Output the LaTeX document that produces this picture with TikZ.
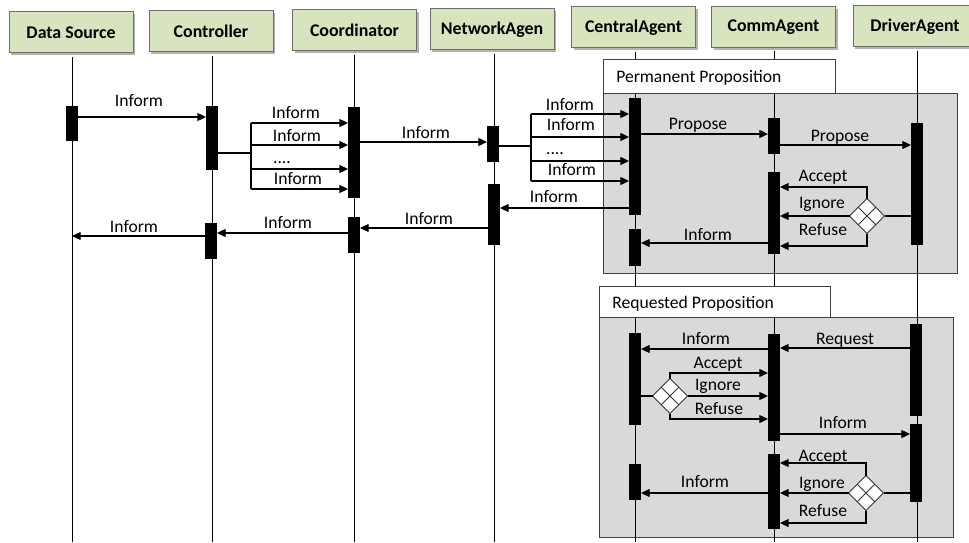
\documentclass[tikz,border=0pt]{standalone}
\usepackage{fontspec}
\setmainfont{Carlito}
\usetikzlibrary{arrows.meta,shapes.geometric,shadows,calc}
\definecolor{hdrfill}{HTML}{D7E4BD}
\definecolor{hdrline}{HTML}{6E6E6E}
\definecolor{grayfill}{HTML}{D9D9D9}
\definecolor{frameline}{HTML}{404040}
\newcommand{\actbar}[4]{\node[actbar, minimum height={(#4-#3)*0.75pt}] (#1) at (#2,{(#3+#4)/2}) {};}
\begin{document}
\begin{tikzpicture}[x=0.75pt,y=-0.75pt, font=\fontsize{13.2}{15}\selectfont,
  hdr/.style={draw=hdrline, fill=hdrfill, line width=0.75pt, minimum width=93pt, minimum height=30.75pt, inner sep=0pt,
    font=\fontsize{13.4}{15}\selectfont\bfseries,
    drop shadow={shadow xshift=1.6pt, shadow yshift=-1.6pt, fill=black, opacity=0.3}},
  life/.style={line width=0.75pt},
  actbar/.style={fill=black, draw=none, minimum width=9pt, inner sep=0pt, outer sep=0pt},
  msg/.style={line width=0.9pt, -{Triangle[length=6.5pt,width=6pt]}},
  ln/.style={line width=0.9pt},
  lab/.style={inner sep=0pt, text height=0.64em, text depth=0pt, yshift=-1.1pt},
  dia/.style={diamond, draw=black!80, fill=white, line width=0.7pt, minimum width=26.25pt, minimum height=26.25pt, inner sep=0pt, outer sep=0pt, aspect=1},
  frame/.style={draw=frameline, line width=0.75pt},
]
\useasboundingbox (0,0) rectangle (969,542);
\clip (0,0) rectangle (969,542);
\fill[white] (0,0) rectangle (969,542);

% header boxes
\node[hdr] (hds) at (71,32.5) {Data Source};
\node[hdr] (hct) at (211,31.5) {Controller};
\node[hdr] (hco) at (354.5,30.5) {Coordinator};
\node[hdr] (hnw) at (492,29.5) {NetworkAgen};
\node[hdr] (hce) at (633.5,27.5) {CentralAgent};
\node[hdr] (hcm) at (773.5,27) {CommAgent};
\node[hdr] (hdv) at (915,26.5) {DriverAgent};

% gray frames
\draw[frame, fill=grayfill] (603,93) rectangle (957,273);
\draw[frame, fill=grayfill] (599,317) rectangle (953,537);

% lifelines
\coordinate (lds) at (72,57);
\coordinate (lct) at (212,56);
\coordinate (lco) at (354,55);
\coordinate (lnw) at (494,54);
\coordinate (lce) at (635,52);
\coordinate (lcm) at (774,51);
\coordinate (ldv) at (917,51);
\foreach \l in {lds,lct,lco,lnw,lce,lcm,ldv}
  \draw[life] (\l) -- (\l |- 0,542);

% tabs
\draw[frame, fill=white] (603,60) rectangle (835,93);
\node[lab, anchor=west] (tperm) at (616,77) {Permanent Proposition};
\draw[frame, fill=white] (599,286) rectangle (830,317);
\node[lab, anchor=west] (treq) at (612,303) {Requested Proposition};

% activation bars
\actbar{ds1}{72}{106}{141}
\actbar{ct1}{212}{106}{170}
\actbar{ct2}{211}{223}{259}
\actbar{co1}{354}{107}{198}
\actbar{co2}{354}{217}{253}
\actbar{nw1}{493}{126}{162}
\actbar{nw2}{494}{184}{245}
\actbar{ce1}{635}{98}{215}
\actbar{ce2}{635}{229}{266}
\actbar{cm1}{774}{118}{154}
\actbar{cm2}{774}{172}{254}
\actbar{dr1}{917}{123}{245}
\actbar{ce3}{635}{333}{425}
\actbar{ce4}{635}{464}{500}
\actbar{cm3}{774}{334}{441}
\actbar{cm4}{774}{454}{529}
\actbar{dr2}{916}{324}{416}
\actbar{dr3}{916}{424}{502}

% --- left part
\draw[msg] (ds1.east |- 0,117) -- (ct1.west |- 0,117);
\node[lab] (l1) at (139,101) {Inform};

\coordinate (fk1) at (251,153);
\draw[ln] (ct1.east |- fk1) -- (fk1);
\draw[ln] (fk1 |- 0,123) -- (fk1 |- 0,189);
\foreach \yy in {123,145,169,189}
  \draw[msg] (fk1 |- 0,\yy) -- (co1.west |- 0,\yy);
\node[lab] (l2) at (296,113) {Inform};
\node[lab] (l3) at (297,136) {Inform};
\node[lab] (l4) at (282,158) {....};
\node[lab] (l5) at (298,179) {Inform};

\draw[msg] (co1.east |- 0,142) -- (nw1.west |- 0,142);
\node[lab] (l6) at (426,133) {Inform};

\coordinate (fk2) at (531,146);
\draw[ln] (nw1.east |- fk2) -- (fk2);
\draw[ln] (fk2 |- 0,114) -- (fk2 |- 0,181);
\foreach \yy in {114,137,161,181}
  \draw[msg] (fk2 |- 0,\yy) -- (ce1.west |- 0,\yy);
\node[lab] (l7) at (570,105) {Inform};
\node[lab] (l8) at (571,125) {Inform};
\node[lab] (l9) at (555,149) {....};
\node[lab] (l10) at (572,170) {Inform};

\draw[msg] (ce1.west |- 0,208) -- (nw2.east |- 0,208);
\node[lab] (l11) at (554,197) {Inform};
\draw[msg] (nw2.west |- 0,228) -- (co2.east |- 0,228);
\node[lab] (l12) at (429,219) {Inform};
\draw[msg] (co2.west |- 0,233) -- (ct2.east |- 0,233);
\node[lab] (l13) at (288,223) {Inform};
\draw[msg] (ct2.west |- 0,236) -- (lds |- 0,236);
\node[lab] (l14) at (134,227) {Inform};

% --- permanent proposition
\draw[msg] (ce1.east |- 0,134) -- (cm1.west |- 0,134);
\node[lab] (p1) at (698,124) {Propose};
\draw[msg] (cm1.east |- 0,145) -- (dr1.west |- 0,145);
\node[lab] (p2) at (840,136) {Propose};

\node[dia] (d1) at (867,216) {};
\draw[line width=0.6pt, black!80] ($(d1.north)!0.5!(d1.west)$) -- ($(d1.south)!0.5!(d1.east)$);
\draw[line width=0.6pt, black!80] ($(d1.north)!0.5!(d1.east)$) -- ($(d1.south)!0.5!(d1.west)$);
\draw[ln] (dr1.west |- d1.east) -- (d1.east);
\draw[msg] (d1.north) -- (d1.north |- 0,187) -- (cm2.east |- 0,187);
\draw[msg] (d1.west) -- (cm2.east |- d1.west);
\draw[msg] (d1.south) -- (d1.south |- 0,246) -- (cm2.east |- 0,246);
\node[lab] (p3) at (823,176) {Accept};
\node[lab] (p4) at (822,203) {Ignore};
\node[lab] (p5) at (823,230) {Refuse};

\draw[msg] (cm2.west |- 0,243) -- (ce2.east |- 0,243);
\node[lab] (p6) at (708,235) {Inform};

% --- requested proposition
\draw[msg] (dr2.west |- 0,348) -- (cm3.east |- 0,348);
\node[lab] (r1) at (845,339) {Request};
\draw[msg] (cm3.west |- 0,349) -- (ce3.east |- 0,349);
\node[lab] (r2) at (706,339) {Inform};

\node[dia] (d2) at (670,396) {};
\draw[line width=0.6pt, black!80] ($(d2.north)!0.5!(d2.west)$) -- ($(d2.south)!0.5!(d2.east)$);
\draw[line width=0.6pt, black!80] ($(d2.north)!0.5!(d2.east)$) -- ($(d2.south)!0.5!(d2.west)$);
\draw[ln] (ce3.east |- d2.west) -- (d2.west);
\draw[msg] (d2.north) -- (d2.north |- 0,373) -- (cm3.west |- 0,373);
\draw[msg] (d2.east) -- (cm3.west |- d2.east);
\draw[msg] (d2.south) -- (d2.south |- 0,419) -- (cm3.west |- 0,419);
\node[lab] (r3) at (718,363) {Accept};
\node[lab] (r4) at (718,385) {Ignore};
\node[lab] (r5) at (719,409) {Refuse};

\draw[msg] (cm3.east |- 0,434) -- (dr3.west |- 0,434);
\node[lab] (r6) at (843,423) {Inform};

\node[dia] (d3) at (866,493) {};
\draw[line width=0.6pt, black!80] ($(d3.north)!0.5!(d3.west)$) -- ($(d3.south)!0.5!(d3.east)$);
\draw[line width=0.6pt, black!80] ($(d3.north)!0.5!(d3.east)$) -- ($(d3.south)!0.5!(d3.west)$);
\draw[ln] (dr3.west |- d3.east) -- (d3.east);
\draw[msg] (d3.north) -- (d3.north |- 0,463) -- (cm4.east |- 0,463);
\draw[msg] (d3.west) -- (cm4.east |- d3.west);
\draw[msg] (d3.south) -- (d3.south |- 0,523) -- (cm4.east |- 0,523);
\node[lab] (r7) at (823,456) {Accept};
\node[lab] (r8) at (822,483) {Ignore};
\node[lab] (r9) at (823,511) {Refuse};

\draw[msg] (cm4.west |- 0,493) -- (ce4.east |- 0,493);
\node[lab] (r10) at (705,482) {Inform};
\end{tikzpicture}
\end{document}
